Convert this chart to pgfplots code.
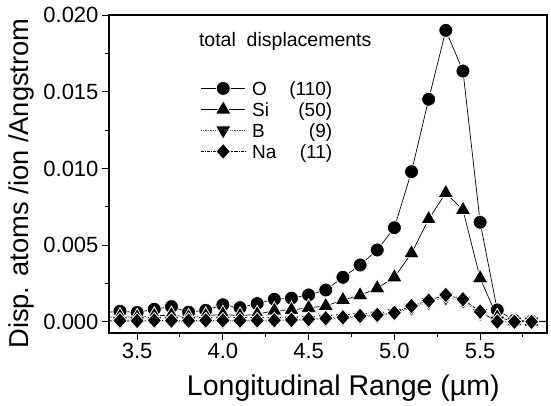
\documentclass[border=0pt]{standalone}
\usepackage{fontspec}
\setmainfont{Liberation Sans}
\usepackage{pgfplots}
\usepackage{pgfplotstable}
\pgfplotsset{compat=1.18}
\pgfplotstableread{
x      O        Si       B        Na
3.3    0.00060  0.00030  0.00005  0.00008
3.4    0.00070  0.00035  0.00004  0.00009
3.5    0.00062  0.00030  0.00005  0.00007
3.6    0.00083  0.00040  0.00006  0.00010
3.7    0.00100  0.00045  0.00005  0.00009
3.8    0.00064  0.00030  0.00004  0.00008
3.9    0.00076  0.00040  0.00006  0.00010
4.0    0.00112  0.00050  0.00005  0.00010
4.1    0.00093  0.00040  0.00006  0.00009
4.2    0.00120  0.00050  0.00006  0.00010
4.3    0.00148  0.00074  0.00007  0.00011
4.4    0.00155  0.00078  0.00008  0.00013
4.5    0.00176  0.00092  0.00012  0.00018
4.6    0.00208  0.00104  0.00018  0.00024
4.7    0.00291  0.00143  0.00024  0.00030
4.8    0.00371  0.00174  0.00032  0.00039
4.9    0.00469  0.00220  0.00040  0.00046
5.0    0.00614  0.00291  0.00055  0.00060
5.1    0.00979  0.00448  0.00092  0.00104
5.2    0.01451  0.00670  0.00128  0.00139
5.3    0.01900  0.00840  0.00160  0.00176
5.4    0.01635  0.00730  0.00138  0.00148
5.5    0.00650  0.00285  0.00058  0.00067
5.6    0.00078  0.00030  0.00008  0.00002
5.7    0.00010  0.00005  0.00002  0.00001
5.8    0.00005  0.00003  0.00002  0.00001
5.9    0.00005  0.00003  0.00002  0.00001
}\datatable
\begin{document}
\begin{tikzpicture}
\begin{axis}[
  at={(0,0)}, anchor=south west,
  scale only axis, width=438pt, height=318pt,
  xmin=3.336, xmax=5.89, ymin=-0.00072, ymax=0.020,
  xtick={3.5,4.0,4.5,5.0,5.5}, minor xtick={3.75,4.25,4.75,5.25,5.75},
  ytick={0,0.005,0.010,0.015,0.020}, minor ytick={0.0025,0.0075,0.0125,0.0175},
  xticklabels={3.5,4.0,4.5,5.0,5.5},
  yticklabels={0.000,0.005,0.010,0.015,0.020},
  scaled y ticks=false,
  tick align=outside, xtick pos=bottom, ytick pos=left,
  major tick length=7pt, minor tick length=4pt,
  every tick/.style={black, line width=1pt},
  axis line style={line width=1.2pt},
  tick label style={font=\fontsize{22}{26}\selectfont},
  xlabel={Longitudinal Range (µm)},
  ylabel={Disp. atoms /ion /Angstrom},
  xlabel style={font=\fontsize{28.5}{33}\selectfont, at={(axis description cs:0.535,0)}, anchor=base, yshift=-62pt},
  ylabel style={font=\fontsize{27.3}{32}\selectfont, at={(axis description cs:-0.199,0.47)}, anchor=center},
  clip marker paths=true,
  legend image code/.code={\draw[mark repeat=2,mark phase=2,overlay,#1] plot coordinates {(0pt,0pt)(22pt,0pt)(44pt,0pt)};
    \path[draw=none,fill=none] (0pt,-3pt) rectangle (44pt,3pt);},
  legend style={draw=none, fill=none, at={(axis cs:3.855,0.0158)}, anchor=north west,
    font=\fontsize{19}{22}\selectfont, row sep=7.5pt, column sep=7pt,
    nodes={inner sep=0pt, text height=13.5pt, text depth=0pt}},
  legend cell align=left,
]
\addplot[black, line width=0.7pt, mark=*, mark size=7pt,
  mark options={solid, fill=black, draw=white, line width=0.8pt}] table[x=x,y=O] {\datatable};
\addlegendentry{\makebox[80pt][l]{O\hfill(110)}}
\addplot[black, line width=0.7pt, mark=triangle*, mark size=9pt,
  mark options={solid, fill=black, draw=white, line width=0.8pt}] table[x=x,y=Si] {\datatable};
\addlegendentry{\makebox[80pt][l]{Si\hfill(50)}}
\addplot[black!70, line width=0.7pt, densely dotted, mark=triangle*, mark size=9pt,
  mark options={solid, fill=black, draw=white, line width=0.8pt, rotate=180}] table[x=x,y=B] {\datatable};
\addlegendentry{\makebox[80pt][l]{B\hfill(9)}}
\addplot[black, line width=0.7pt, densely dashdotted, mark=diamond*, mark size=8pt,
  mark options={solid, fill=black, draw=white, line width=0.8pt, xscale=1.2}] table[x=x,y=Na] {\datatable};
\addlegendentry{\makebox[80pt][l]{Na\hfill(11)}}
\node[anchor=base west, font=\fontsize{19.5}{22}\selectfont, inner sep=0pt] at (axis cs:3.86,0.01794) {total\ \ displacements};
\end{axis}
\pgfresetboundingbox
\path[use as bounding box] (-109pt,-72pt) rectangle (442pt,333pt);
\end{tikzpicture}
\end{document}
